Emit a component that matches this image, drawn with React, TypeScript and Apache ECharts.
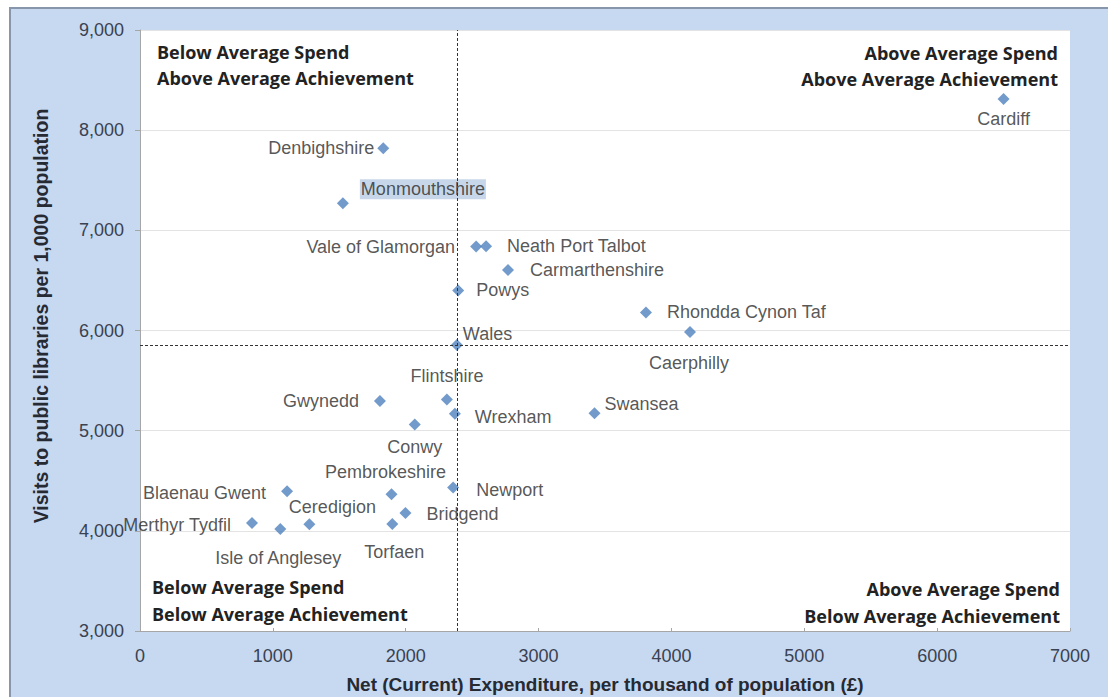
import React, { useEffect, useRef } from "react";
import * as echarts from "echarts";

const names = [
  "Cardiff", "Denbighshire", "Monmouthshire", "Vale of Glamorgan", "Neath Port Talbot",
  "Carmarthenshire", "Powys", "Rhondda Cynon Taf", "Caerphilly", "Wales",
  "Flintshire", "Gwynedd", "Wrexham", "Conwy", "Swansea",
  "Pembrokeshire", "Blaenau Gwent", "Newport", "Ceredigion", "Bridgend",
  "Merthyr Tydfil", "Isle of Anglesey", "Torfaen",
];
const spend = [
  6500, 1831, 1527, 2530, 2605,
  2770, 2395, 3808, 4140, 2385,
  2310, 1806, 2370, 2068, 3421,
  1893, 1107, 2357, 1275, 1998,
  843, 1056, 1899,
];
const visits = [
  8311, 7820, 7270, 6838, 6840,
  6605, 6400, 6180, 5985, 5855,
  5310, 5295, 5170, 5062, 5175,
  4365, 4395, 4432, 4065, 4178,
  4078, 4018, 4067,
];
const avgSpend = 2385;
const avgVisits = 5850;

const quadrantTexts = {
  topLeft: ["Below Average Spend", "Above Average Achievement"],
  topRight: ["Above Average Spend", "Above Average Achievement"],
  bottomLeft: ["Below Average Spend", "Below Average Achievement"],
  bottomRight: ["Above Average Spend", "Below Average Achievement"],
};
const xTitle = "Net (Current) Expenditure, per thousand of population (£)";
const yTitle = "Visits to public libraries per 1,000 population";

// label placement (style only)
const labelPlacement: Record<string, { p: string; d: number; o?: [number, number] }> = {
  "Cardiff": { p: "bottom", d: 5 },
  "Denbighshire": { p: "left", d: 3 },
  "Monmouthshire": { p: "right", d: 11, o: [0, -14] },
  "Vale of Glamorgan": { p: "left", d: 15 },
  "Neath Port Talbot": { p: "right", d: 15 },
  "Carmarthenshire": { p: "right", d: 16 },
  "Powys": { p: "right", d: 12 },
  "Rhondda Cynon Taf": { p: "right", d: 15 },
  "Caerphilly": { p: "bottom", d: 16, o: [-1, 0] },
  "Wales": { p: "right", d: 0, o: [0, -11] },
  "Flintshire": { p: "top", d: 9 },
  "Gwynedd": { p: "left", d: 15 },
  "Wrexham": { p: "right", d: 14, o: [0, 3] },
  "Conwy": { p: "bottom", d: 8 },
  "Swansea": { p: "right", d: 4, o: [0, -9] },
  "Pembrokeshire": { p: "top", d: 7, o: [-6, 0] },
  "Blaenau Gwent": { p: "left", d: 15, o: [0, 2] },
  "Newport": { p: "right", d: 17, o: [0, 2] },
  "Ceredigion": { p: "top", d: 2, o: [23, 0] },
  "Bridgend": { p: "right", d: 15, o: [0, 1] },
  "Merthyr Tydfil": { p: "left", d: 15, o: [0, 2] },
  "Isle of Anglesey": { p: "bottom", d: 14, o: [-2, 0] },
  "Torfaen": { p: "bottom", d: 13, o: [2, 0] },
};

export default function App() {
  const ref = useRef<HTMLDivElement>(null);
  useEffect(() => {
    if (!ref.current) return;
    const chart = echarts.init(ref.current, null, { renderer: "svg" });
    const labelFont = "'Liberation Sans', Arial, sans-serif";
    const boldFont = "'Open Sans', sans-serif";
    const data = names.map((n, i) => {
      const lp = labelPlacement[n];
      const label: any = {
        show: true,
        position: lp.p,
        distance: lp.d,
        offset: lp.o || [0, 0],
      };
      if (n === "Monmouthshire") {
        label.backgroundColor = "#b9cde4";
        label.padding = [1, 1];
      }
      return { name: n, value: [spend[i], visits[i]], label };
    });
    const qStyle = (text: string, x: number, y: number, align: string) => ({
      type: "text",
      x,
      y,
      z: 100,
      style: {
        text,
        fill: "#222222",
        font: `bold 18px ${boldFont}`,
        textAlign: align,
        textVerticalAlign: "middle",
      },
    });
    chart.setOption({
      animation: false,
      backgroundColor: "transparent",
      grid: {
        left: 140,
        top: 30,
        right: 38,
        bottom: 66,
        show: true,
        backgroundColor: "#ffffff",
        borderWidth: 0,
      },
      xAxis: {
        type: "value",
        min: 0,
        max: 7000,
        interval: 1000,
        axisLine: { show: true, lineStyle: { color: "#a6a6a6", width: 1 } },
        axisTick: { show: true, inside: true, length: 3, lineStyle: { color: "#a6a6a6" } },
        splitLine: { show: false },
        axisLabel: {
          margin: 16,
          color: "#3a4150",
          fontFamily: labelFont,
          fontSize: 18,
          formatter: (v: number) => String(v),
        },
      },
      yAxis: {
        type: "value",
        min: 3000,
        max: 9000,
        interval: 1000,
        axisLine: { show: true, lineStyle: { color: "#a6a6a6", width: 1 } },
        axisTick: { show: true, inside: false, length: 5, lineStyle: { color: "#a6a6a6" } },
        splitLine: { show: true, lineStyle: { color: "#e3e3e3", width: 1 } },
        axisLabel: {
          margin: 16,
          color: "#3a4150",
          fontFamily: labelFont,
          fontSize: 18,
          formatter: (v: number) => v.toLocaleString("en-US"),
        },
      },
      graphic: [
        qStyle(quadrantTexts.topLeft[0], 157, 52, "left"),
        qStyle(quadrantTexts.topLeft[1], 157, 78, "left"),
        qStyle(quadrantTexts.topRight[0], 1058, 53, "right"),
        qStyle(quadrantTexts.topRight[1], 1058, 79, "right"),
        qStyle(quadrantTexts.bottomLeft[0], 152, 587, "left"),
        qStyle(quadrantTexts.bottomLeft[1], 152, 614, "left"),
        qStyle(quadrantTexts.bottomRight[0], 1060, 589, "right"),
        qStyle(quadrantTexts.bottomRight[1], 1060, 616, "right"),
        {
          type: "text",
          x: 605,
          y: 684,
          z: 100,
          style: {
            text: xTitle,
            fill: "#262a33",
            font: `bold 19px ${labelFont}`,
            textAlign: "center",
            textVerticalAlign: "middle",
          },
        },
        {
          type: "text",
          x: 41,
          y: 316,
          rotation: Math.PI / 2,
          z: 100,
          style: {
            text: yTitle,
            fill: "#262a33",
            font: `bold 19.5px ${labelFont}`,
            textAlign: "center",
            textVerticalAlign: "middle",
          },
        },
      ],
      series: [
        {
          type: "scatter",
          symbol: "diamond",
          symbolSize: 12,
          itemStyle: { color: "#4f81bd" },
          label: {
            formatter: "{b}",
            color: "#2b2b2b",
            fontFamily: labelFont,
            fontSize: 18,
            lineHeight: 18,
          },
          data,
          markLine: {
            silent: true,
            symbol: "none",
            label: { show: false },
            lineStyle: { type: [3, 2], color: "#333333", width: 1 },
            data: [{ xAxis: avgSpend }, { yAxis: avgVisits }],
          },
        },
      ],
    });
    return () => chart.dispose();
  }, []);
  return (
    <div
      style={{
        position: "absolute",
        left: 0,
        top: 0,
        width: 1108,
        height: 697,
        overflow: "hidden",
        background: "#ffffff",
      }}
    >
      <div
        style={{
          position: "absolute",
          left: 9,
          top: 7,
          width: 1200,
          height: 800,
          background: "#c6d9f1",
          borderLeft: "2px solid #8796ab",
          borderTop: "2px solid #8796ab",
        }}
      />
      <div ref={ref} style={{ position: "absolute", left: 0, top: 0, width: 1108, height: 697 }} />
    </div>
  );
}
